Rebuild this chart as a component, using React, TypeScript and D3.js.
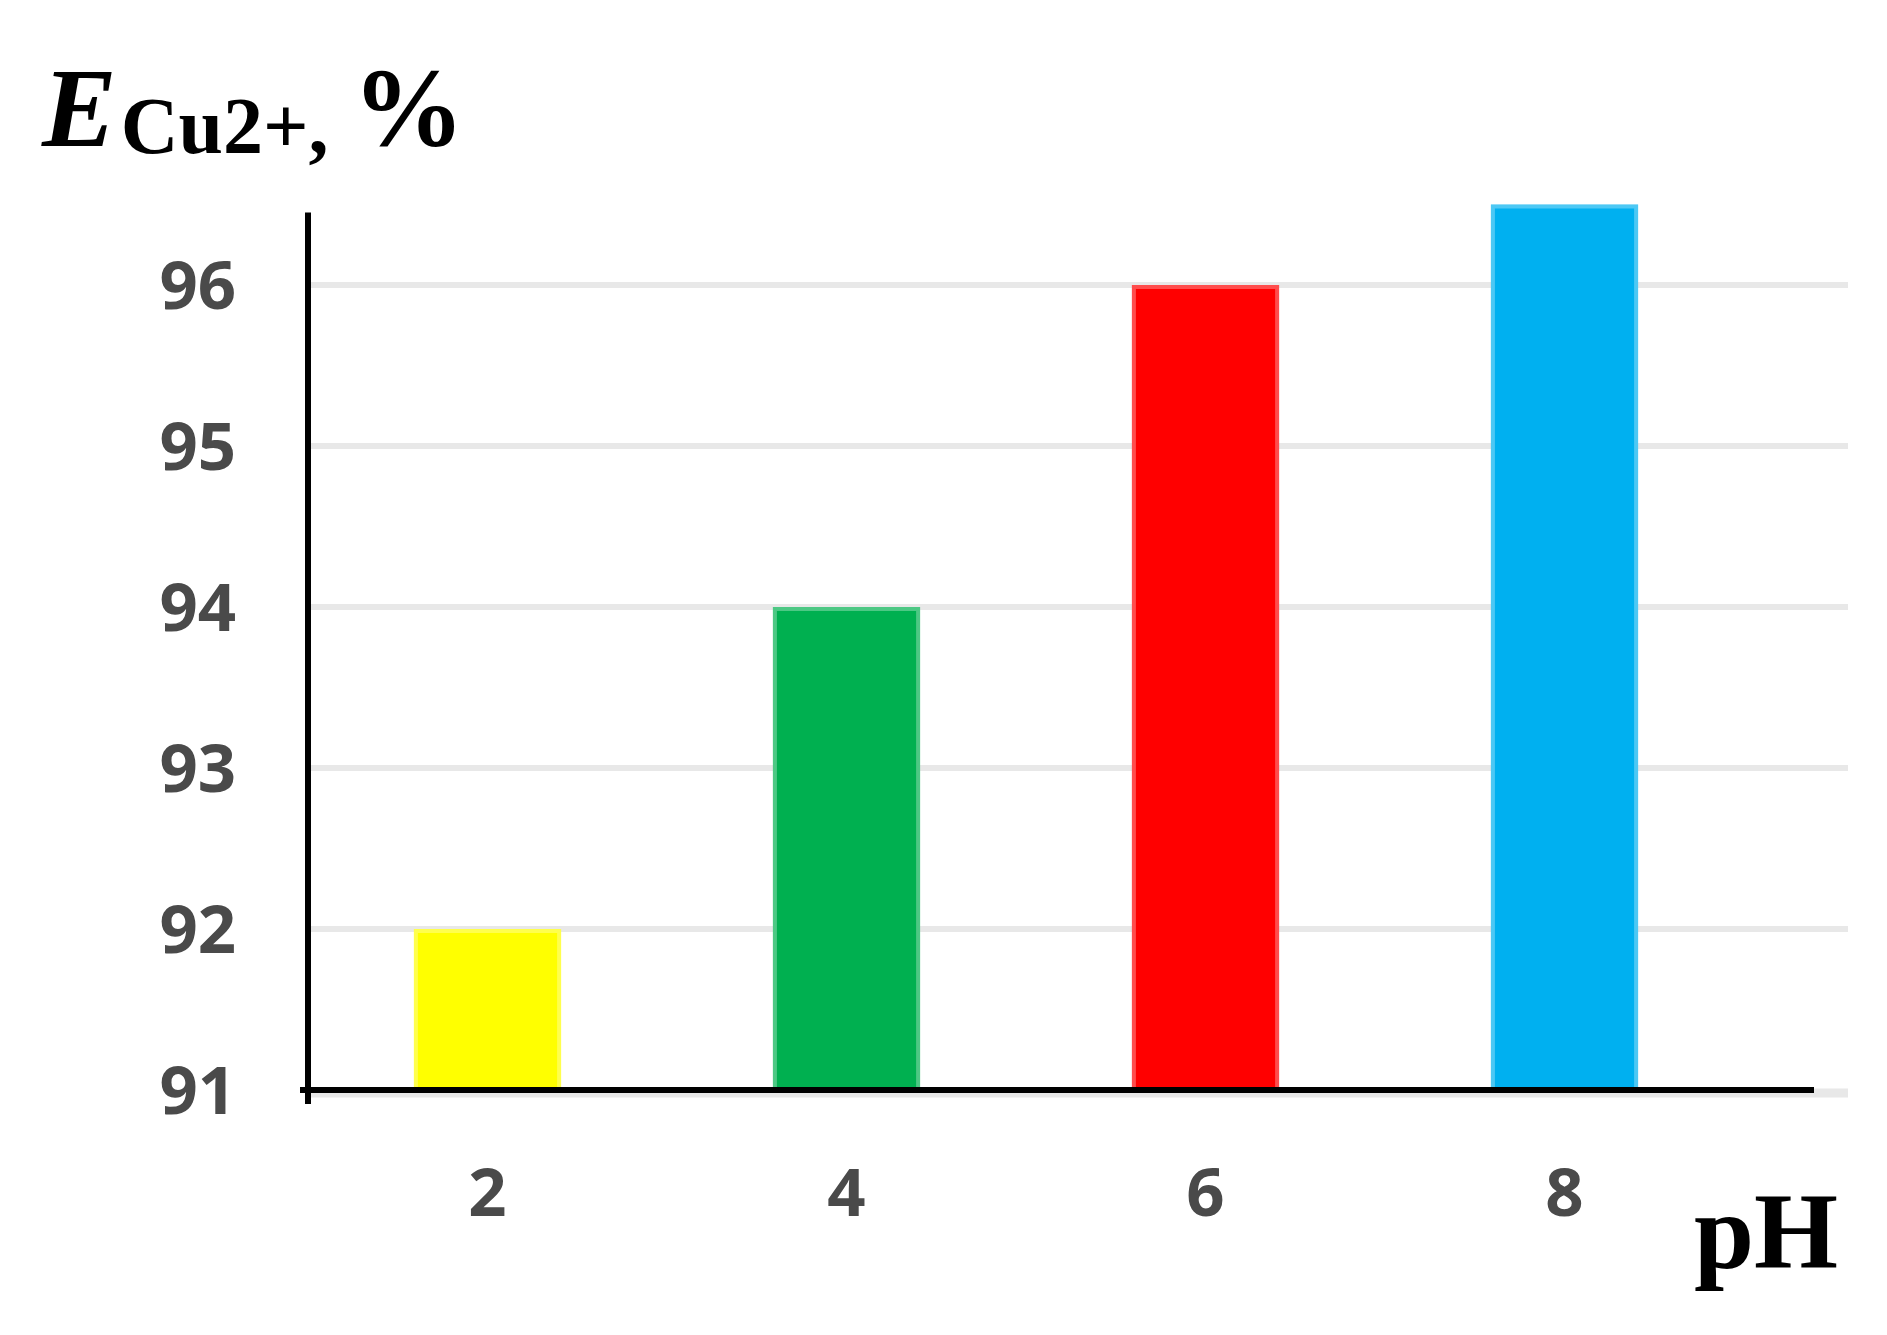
import React, { useEffect, useRef } from 'react';
import * as d3 from 'd3';

// data
const phLevels = ['2', '4', '6', '8'];
const efficiency = [92.0, 94.0, 96.0, 96.5];
const barColors = ['#ffff00', '#00b050', '#ff0000', '#00b0f0'];
const yTicks = [91, 92, 93, 94, 95, 96];

export default function App() {
	const ref = useRef<SVGSVGElement | null>(null);

	useEffect(() => {
		const width = 1887,
			height = 1335;

		const svg = d3.select(ref.current)
			.attr('width', width)
			.attr('height', height);
		svg.selectAll('*').remove();

		// plot frame
		const left = 308,
			right = 1744;

		const x = d3.scaleBand()
			.domain(phLevels)
			.range([left, right])
			.paddingInner(0.59)
			.paddingOuter(0.295);

		const y = d3.scaleLinear()
			.domain([91, 96])
			.range([1090, 285]);

		const g = svg.append('g');

		// gridlines
		g.selectAll('line.grid')
			.data(yTicks)
			.enter()
			.append('line')
			.attr('class', 'grid')
			.attr('x1', left + 3)
			.attr('x2', 1848)
			.attr('y1', (d) => d === 91 ? y(d) + 3 : y(d))
			.attr('y2', (d) => d === 91 ? y(d) + 3 : y(d))
			.attr('stroke', '#e8e8e8')
			.attr('stroke-width', (d) => d === 91 ? 9 : 6);

		// bars
		g.selectAll('rect.bar')
			.data(efficiency)
			.enter()
			.append('rect')
			.attr('class', 'bar')
			.attr('x', (d, i) => x(phLevels[i]) as number)
			.attr('width', x.bandwidth())
			.attr('y', (d) => y(d))
			.attr('height', (d) => y(91) - y(d))
			.attr('fill', (d, i) => barColors[i]);

		// soft edge, like the blurry original
		g.selectAll('rect.edge')
			.data(efficiency)
			.enter()
			.append('rect')
			.attr('class', 'edge')
			.attr('x', (d, i) => (x(phLevels[i]) as number) + 2)
			.attr('width', x.bandwidth() - 4)
			.attr('y', (d) => y(d) + 2)
			.attr('height', (d) => y(91) - y(d) - 2)
			.attr('fill', 'none')
			.attr('stroke', '#ffffff')
			.attr('stroke-opacity', 0.3)
			.attr('stroke-width', 4);

		// axes lines
		g.append('line')
			.attr('x1', left)
			.attr('x2', left)
			.attr('y1', y(96.45))
			.attr('y2', y(91) + 14)
			.attr('stroke', '#000')
			.attr('stroke-width', 6);

		g.append('line')
			.attr('x1', left - 8)
			.attr('x2', 1814)
			.attr('y1', y(91))
			.attr('y2', y(91))
			.attr('stroke', '#000')
			.attr('stroke-width', 6);

		// y tick labels
		g.selectAll('text.ytick')
			.data(yTicks)
			.enter()
			.append('text')
			.attr('class', 'ytick')
			.attr('x', 236)
			.attr('y', (d) => y(d))
			.attr('dy', '0.36em')
			.attr('text-anchor', 'end')
			.style('font', 'bold 67px "Open Sans", sans-serif')
			.style('fill', '#4a4a4a')
			.text((d) => d);

		// x tick labels
		g.selectAll('text.xtick')
			.data(phLevels)
			.enter()
			.append('text')
			.attr('class', 'xtick')
			.attr('x', (d) => (x(d) as number) + x.bandwidth() / 2)
			.attr('y', 1216)
			.attr('text-anchor', 'middle')
			.style('font', 'bold 67px "Open Sans", sans-serif')
			.style('fill', '#4a4a4a')
			.text((d) => d);

		// axis titles
		const yTitle = g.append('text')
			.attr('x', 42)
			.attr('y', 146)
			.style('font-family', '"Liberation Serif", "Times New Roman", serif')
			.style('font-weight', 'bold')
			.style('fill', '#000');
		yTitle.append('tspan')
			.style('font-style', 'italic')
			.style('font-size', '112px')
			.text('E');
		yTitle.append('tspan')
			.style('font-size', '80px')
			.attr('dy', 7)
			.attr('dx', 4)
			.text('Cu2+,');
		yTitle.append('tspan')
			.style('font-size', '112px')
			.attr('dy', -7)
			.attr('dx', 24)
			.text('%');

		g.append('text')
			.attr('x', 1838)
			.attr('y', 1268)
			.attr('text-anchor', 'end')
			.style('font', 'bold 108px "Liberation Serif", "Times New Roman", serif')
			.style('fill', '#000')
			.text('pH');
	}, []);

	return (
		<div style={{ position: 'absolute', left: 0, top: 0, background: '#fff' }}>
			<svg ref={ref}></svg>
		</div>
	);
}
